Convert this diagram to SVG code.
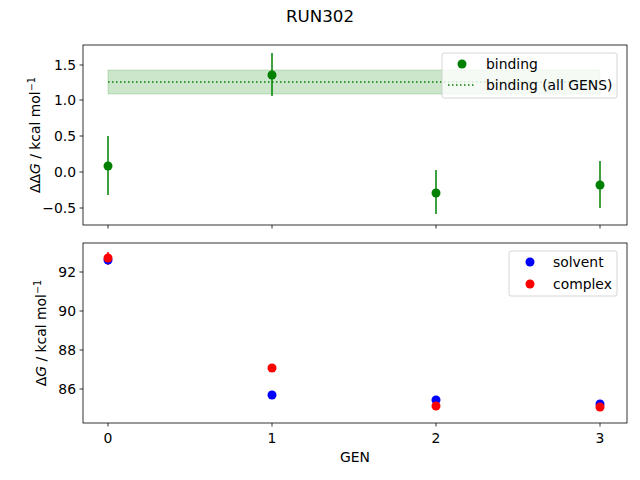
<svg xmlns="http://www.w3.org/2000/svg" width="640" height="480" viewBox="0 0 640 480">
<style>
text{font-family:"DejaVu Sans",sans-serif;font-size:13.9px;fill:#000}
.ax{fill:none;stroke:#000;stroke-width:0.8}
.tk{stroke:#000;stroke-width:0.8}
.g{fill:#008000}
.eb{stroke:#008000;stroke-width:1.5}
</style>
<rect width="640" height="480" fill="#fff"/>
<text x="320" y="22" text-anchor="middle" style="font-size:16.7px">RUN302</text>
<g id="top">
<rect x="108" y="70" width="492" height="24" fill="#008000" fill-opacity="0.2" stroke="#008000" stroke-opacity="0.2"/>
<line x1="108" y1="82" x2="600" y2="82" stroke="#008000" stroke-width="1.5" stroke-dasharray="1.5,2.5"/>
<g id="errs">
<line class="eb" x1="108" y1="136" x2="108" y2="195"/>
<line class="eb" x1="272" y1="53" x2="272" y2="96"/>
<line class="eb" x1="436" y1="170" x2="436" y2="214"/>
<line class="eb" x1="600" y1="161" x2="600" y2="208"/>
</g>
<circle class="g" cx="108" cy="166" r="4.5"/>
<circle class="g" cx="272" cy="75" r="4.5"/>
<circle class="g" cx="436" cy="193" r="4.5"/>
<circle class="g" cx="600" cy="185" r="4.5"/>
<rect class="ax" x="83" y="45" width="544" height="180"/>
<g class="tk">
<line x1="108" y1="225" x2="108" y2="228.5"/><line x1="272" y1="225" x2="272" y2="228.5"/><line x1="436" y1="225" x2="436" y2="228.5"/><line x1="600" y1="225" x2="600" y2="228.5"/>
<line x1="79.5" y1="65" x2="83" y2="65"/><line x1="79.5" y1="100" x2="83" y2="100"/><line x1="79.5" y1="136" x2="83" y2="136"/><line x1="79.5" y1="172" x2="83" y2="172"/><line x1="79.5" y1="208" x2="83" y2="208"/>
</g>
<text x="76" y="70" text-anchor="end">1.5</text>
<text x="76" y="105" text-anchor="end">1.0</text>
<text x="76" y="141" text-anchor="end">0.5</text>
<text x="76" y="177" text-anchor="end">0.0</text>
<text x="76" y="213" text-anchor="end">−0.5</text>
<text transform="translate(40,135) rotate(-90)" text-anchor="middle">ΔΔ<tspan font-style="italic">G</tspan> / kcal mol<tspan dy="-5" style="font-size:9.7px">−1</tspan></text>
<g id="legend1">
<rect x="442" y="53" width="175" height="45" rx="2" fill="#fff" fill-opacity="0.8" stroke="#ccc" stroke-width="0.8"/>
<circle class="g" cx="462" cy="64" r="4.5"/>
<text x="486" y="69">binding</text>
<line x1="448" y1="85" x2="476" y2="85" stroke="#008000" stroke-width="1.5" stroke-dasharray="1.5,2.5"/>
<text x="486" y="90">binding (all GENS)</text>
</g>
</g>
<g id="bottom">
<line x1="108" y1="252" x2="108" y2="265" stroke="#ff0000" stroke-width="1.5"/>
<g fill="#0000ff">
<circle cx="108" cy="260" r="4.5"/><circle cx="272" cy="395" r="4.5"/><circle cx="436" cy="400" r="4.5"/><circle cx="600" cy="404" r="4.5"/>
</g>
<g fill="#ff0000">
<circle cx="108" cy="258" r="4.5"/><circle cx="272" cy="368" r="4.5"/><circle cx="436" cy="406" r="4.5"/><circle cx="600" cy="407" r="4.5"/>
</g>
<rect class="ax" x="83" y="243" width="544" height="180"/>
<g class="tk">
<line x1="108" y1="423" x2="108" y2="426.5"/><line x1="272" y1="423" x2="272" y2="426.5"/><line x1="436" y1="423" x2="436" y2="426.5"/><line x1="600" y1="423" x2="600" y2="426.5"/>
<line x1="79.5" y1="272" x2="83" y2="272"/><line x1="79.5" y1="311" x2="83" y2="311"/><line x1="79.5" y1="350" x2="83" y2="350"/><line x1="79.5" y1="389" x2="83" y2="389"/>
</g>
<text x="76" y="277" text-anchor="end">92</text>
<text x="76" y="316" text-anchor="end">90</text>
<text x="76" y="355" text-anchor="end">88</text>
<text x="76" y="394" text-anchor="end">86</text>
<text x="108" y="443" text-anchor="middle">0</text>
<text x="272" y="443" text-anchor="middle">1</text>
<text x="436" y="443" text-anchor="middle">2</text>
<text x="600" y="443" text-anchor="middle">3</text>
<text x="355" y="462" text-anchor="middle">GEN</text>
<text transform="translate(46,333) rotate(-90)" text-anchor="middle">Δ<tspan font-style="italic">G</tspan> / kcal mol<tspan dy="-5" style="font-size:9.7px">−1</tspan></text>
<g id="legend2">
<rect x="509" y="251" width="108" height="45" rx="2" fill="#fff" fill-opacity="0.8" stroke="#ccc" stroke-width="0.8"/>
<circle cx="530" cy="262" r="4.5" fill="#0000ff"/>
<text x="553" y="267">solvent</text>
<circle cx="530" cy="284" r="4.5" fill="#ff0000"/>
<text x="553" y="289">complex</text>
</g>
</g>
</svg>
